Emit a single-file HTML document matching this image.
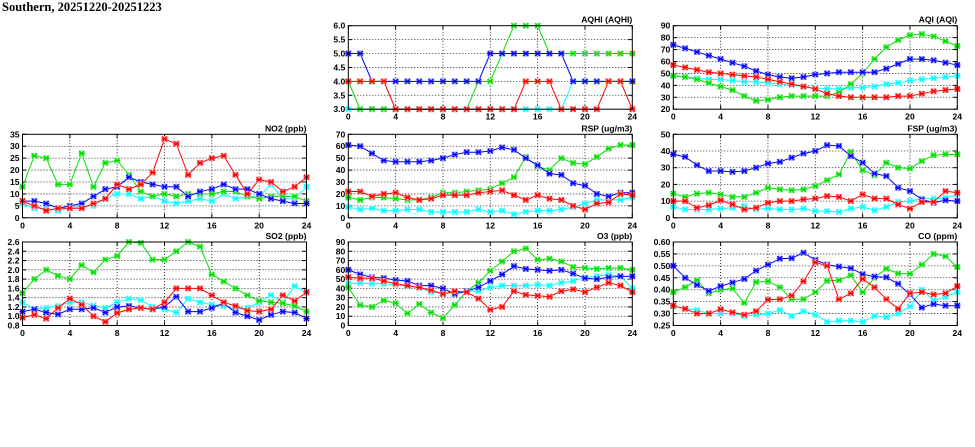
<!DOCTYPE html>
<html><head><meta charset="utf-8"><style>
html,body{margin:0;padding:0;background:#fff;}
svg{display:block;}
text{font-family:"Liberation Sans",sans-serif;font-weight:bold;font-size:8.6px;fill:#000;}
.ttl{font-family:"Liberation Serif",serif;font-size:12.5px;}
</style></head><body>
<svg id="s" width="975" height="447" xmlns="http://www.w3.org/2000/svg">
<rect width="975" height="447" fill="#fff"/>
<text class="ttl" x="2" y="11">Southern, 20251220-20251223</text>
</svg>
<script>
var S=document.getElementById('s'),NS='http://www.w3.org/2000/svg';
function el(t,a,p){var e=document.createElementNS(NS,t);for(var k in a)e.setAttribute(k,a[k]);(p||S).appendChild(e);return e;}
var W=284,H=83.5;
var C={c:'#00ffff',g:'#00dd00',b:'#0000ff',r:'#ff0000'};
var L={c:'#a0ffff',g:'#a0f0a0',b:'#a0a0ff',r:'#ffa0a0'};
var P=[
{x:348.3,y:25.7,t:'AQHI (AQHI)',min:3,max:6,st:0.5,f:1,d:{
c:[3,3,3,3,3,3,3,3,3,3,3,3,3,3,3,3,3,3,3,4,4,4,4,4,4],
g:[4,3,3,3,3,3,3,3,3,3,3,4,4,5,6,6,6,5,5,5,5,5,5,5,5],
b:[5,5,4,4,4,4,4,4,4,4,4,4,5,5,5,5,5,5,5,4,4,4,4,4,4],
r:[4,4,4,4,3,3,3,3,3,3,3,3,3,3,3,4,4,4,3,3,3,3,4,4,3]}},
{x:673.3,y:25.7,t:'AQI (AQI)',min:20,max:90,st:10,f:0,d:{
c:[48,47,46,45,45,44,43,43,42,41,40,39,38,37,37,38,38,39,41,42,44,45,46,47,48],
g:[48,47,45,42,39,36,31,27,28,30,31,31,31,31,34,41,50,62,72,78,82,83,81,77,73],
b:[74,71,68,65,62,59,56,52,49,47,46,47,49,50,51,51,51,51,54,58,62,62,61,59,57],
r:[57,55,53,51,50,49,48,47,45,43,41,39,37,33,31,30,30,30,30,31,31,33,35,36,37]}},
{x:22.5,y:134.3,t:'NO2 (ppb)',min:0,max:35,st:5,f:0,d:{
c:[6,4,4,3,4,5,5,8,10,10,8,9,7,6,7,8,7,10,8,9,9,14,8,8,13],
g:[13,26,25,14,14,27,13,23,24,18,11,9,10,9,10,10,10,11,11,9,8,9,9,9,7],
b:[7,7,6,4,5,6,9,12,13,17,15,14,13,13,9,11,12,14,12,12,10,8,7,6,6],
r:[7,5,3,4,4,4,6,8,14,12,14,19,33,31,18,23,25,26,18,10,16,15,11,13,17]}},
{x:348.3,y:134.3,t:'RSP (ug/m3)',min:0,max:70,st:10,f:0,d:{
c:[9,7,8,6,6,7,7,5,5,5,5,7,5,6,3,5,6,6,7,9,12,15,15,15,17],
g:[17,15,17,17,16,15,15,17,21,21,22,23,24,29,34,51,43,40,50,46,45,51,58,61,61],
b:[61,60,54,48,47,47,47,48,50,53,55,55,56,59,57,50,44,37,36,29,27,20,18,21,21],
r:[22,22,18,20,21,17,15,16,19,19,19,21,22,23,19,15,19,16,15,10,7,12,13,20,19]}},
{x:673.3,y:134.3,t:'FSP (ug/m3)',min:0,max:50,st:10,f:0,d:{
c:[6.5,5,5,5,5.5,6,7,5,5.5,5,5,5.5,4,4,3.5,5.5,6.5,4.5,6.5,9.5,10,11.5,11.5,12,14],
g:[14.5,12.5,14.5,15,14,12.5,12.5,15,18,17,16.5,17,19,22.5,26,39.5,28.5,25.5,33,30,29.5,34,37.5,38,38],
b:[38,36.5,31.5,28,28,27.5,28,30,32.5,33.5,36,38.5,40,43.5,43,37,33,26.5,25,18,16,11,9,10.5,10],
r:[10,10,6,7.5,10.5,8,5,6,9,10,10,11,11.5,13,12.5,10,14,11.5,11.5,8,5.5,9.5,9.5,16,15]}},
{x:22.5,y:242,t:'SO2 (ppb)',min:0.8,max:2.6,st:0.2,f:1,d:{
c:[1.3,1.15,1.18,1.22,1.3,1.3,1.23,1.18,1.3,1.38,1.35,1.2,1.15,1.08,1.38,1.3,1.25,1.22,1.15,1.18,1.3,1.45,1.3,1.65,1.5],
g:[1.5,1.8,2.0,1.87,1.8,2.1,1.95,2.22,2.3,2.6,2.58,2.22,2.22,2.4,2.6,2.5,1.9,1.75,1.6,1.45,1.33,1.3,1.28,1.22,1.1],
b:[1.1,1.15,1.08,1.04,1.15,1.15,1.18,1.08,1.2,1.22,1.18,1.15,1.2,1.42,1.1,1.1,1.18,1.28,1.08,1.0,0.92,1.03,1.1,1.08,0.95],
r:[0.97,1.03,0.95,1.18,1.38,1.25,1.0,0.88,1.07,1.15,1.18,1.15,1.3,1.6,1.6,1.6,1.45,1.3,1.22,1.12,1.1,1.15,1.45,1.33,1.52]}},
{x:348.3,y:242,t:'O3 (ppb)',min:0,max:90,st:10,f:0,d:{
c:[45,46,45,45,44,42,41,36,35,35,37,37,41,43,43,43,44,43,46,48,52,53,55,53,40],
g:[41,22,20,27,24,13,23,14,8,22,37,46,59,69,80,83,71,72,69,63,62,61,62,62,60],
b:[60,55,52,51,49,48,43,43,40,34,37,41,48,55,64,61,60,59,60,56,51,50,52,53,53],
r:[52,51,51,48,45,43,41,38,34,37,36,29,17,20,37,33,32,31,37,39,36,41,46,43,36]}},
{x:673.3,y:242,t:'CO (ppm)',min:0.25,max:0.6,st:0.05,f:2,d:{
c:[0.33,0.32,0.315,0.30,0.30,0.30,0.29,0.295,0.30,0.315,0.29,0.31,0.295,0.265,0.27,0.27,0.265,0.29,0.285,0.30,0.33,0.40,0.355,0.37,0.39],
g:[0.39,0.41,0.44,0.385,0.40,0.405,0.345,0.432,0.435,0.41,0.36,0.36,0.39,0.437,0.44,0.46,0.39,0.45,0.488,0.468,0.467,0.505,0.55,0.54,0.495],
b:[0.50,0.45,0.42,0.395,0.415,0.43,0.445,0.48,0.505,0.53,0.532,0.555,0.525,0.505,0.497,0.49,0.465,0.455,0.452,0.425,0.38,0.325,0.34,0.333,0.333],
r:[0.333,0.32,0.30,0.30,0.318,0.305,0.295,0.31,0.358,0.36,0.375,0.435,0.515,0.50,0.36,0.385,0.445,0.41,0.36,0.32,0.385,0.39,0.38,0.385,0.415]}}
];
P.forEach(function(p){
 var g=el('g',{transform:'translate('+p.x+','+p.y+')'});
 var n=Math.round((p.max-p.min)/p.st);
 for(var i=0;i<=n;i++){
  var v=p.min+i*p.st,y=H-i*H/n;
  if(i>0&&i<n)el('line',{x1:0,x2:W,y1:y,y2:y,stroke:'#000','stroke-width':0.8,'stroke-dasharray':'1,2'},g);
  el('line',{x1:0,x2:4,y1:y,y2:y,stroke:'#000'},g);
  el('line',{x1:W-4,x2:W,y1:y,y2:y,stroke:'#000'},g);
  var t=el('text',{x:-3,y:y+3,'text-anchor':'end'},g);t.textContent=v.toFixed(p.f);
 }
 for(var h=0;h<=24;h+=4){
  var x=h*W/24;
  if(h>0&&h<24)el('line',{x1:x,x2:x,y1:0,y2:H,stroke:'#000','stroke-width':0.8,'stroke-dasharray':'1,2'},g);
  el('line',{x1:x,x2:x,y1:H,y2:H-4,stroke:'#000'},g);
  el('line',{x1:x,x2:x,y1:0,y2:4,stroke:'#000'},g);
  var t=el('text',{x:x,y:H+10.5,'text-anchor':'middle'},g);t.textContent=h;
 }
 ['c','g','b','r'].forEach(function(k){
  var a=p.d[k],pts=[];
  a.forEach(function(v,i){pts.push((i*W/24).toFixed(2)+','+(H-(v-p.min)/(p.max-p.min)*H).toFixed(2));});
  el('polyline',{points:pts.join(' '),fill:'none',stroke:C[k],'stroke-width':1},g);
  pts.forEach(function(s){var q=s.split(','),x=+q[0],y=+q[1];
   el('rect',{x:x-3,y:y-3,width:6,height:6,fill:L[k]},g);
   el('path',{d:'M'+(x-2.5)+' '+(y-2.5)+'L'+(x+2.5)+' '+(y+2.5)+'M'+(x-2.5)+' '+(y+2.5)+'L'+(x+2.5)+' '+(y-2.5)+'M'+(x-3)+' '+y+'L'+(x+3)+' '+y,stroke:C[k],'stroke-width':1.2,fill:'none'},g);
  });
 });
 el('rect',{x:0,y:0,width:W,height:H,fill:'none',stroke:'#000','stroke-width':1},g);
 var t=el('text',{x:W,y:-3,'text-anchor':'end'},g);t.textContent=p.t;
});
</script>
</body></html>
